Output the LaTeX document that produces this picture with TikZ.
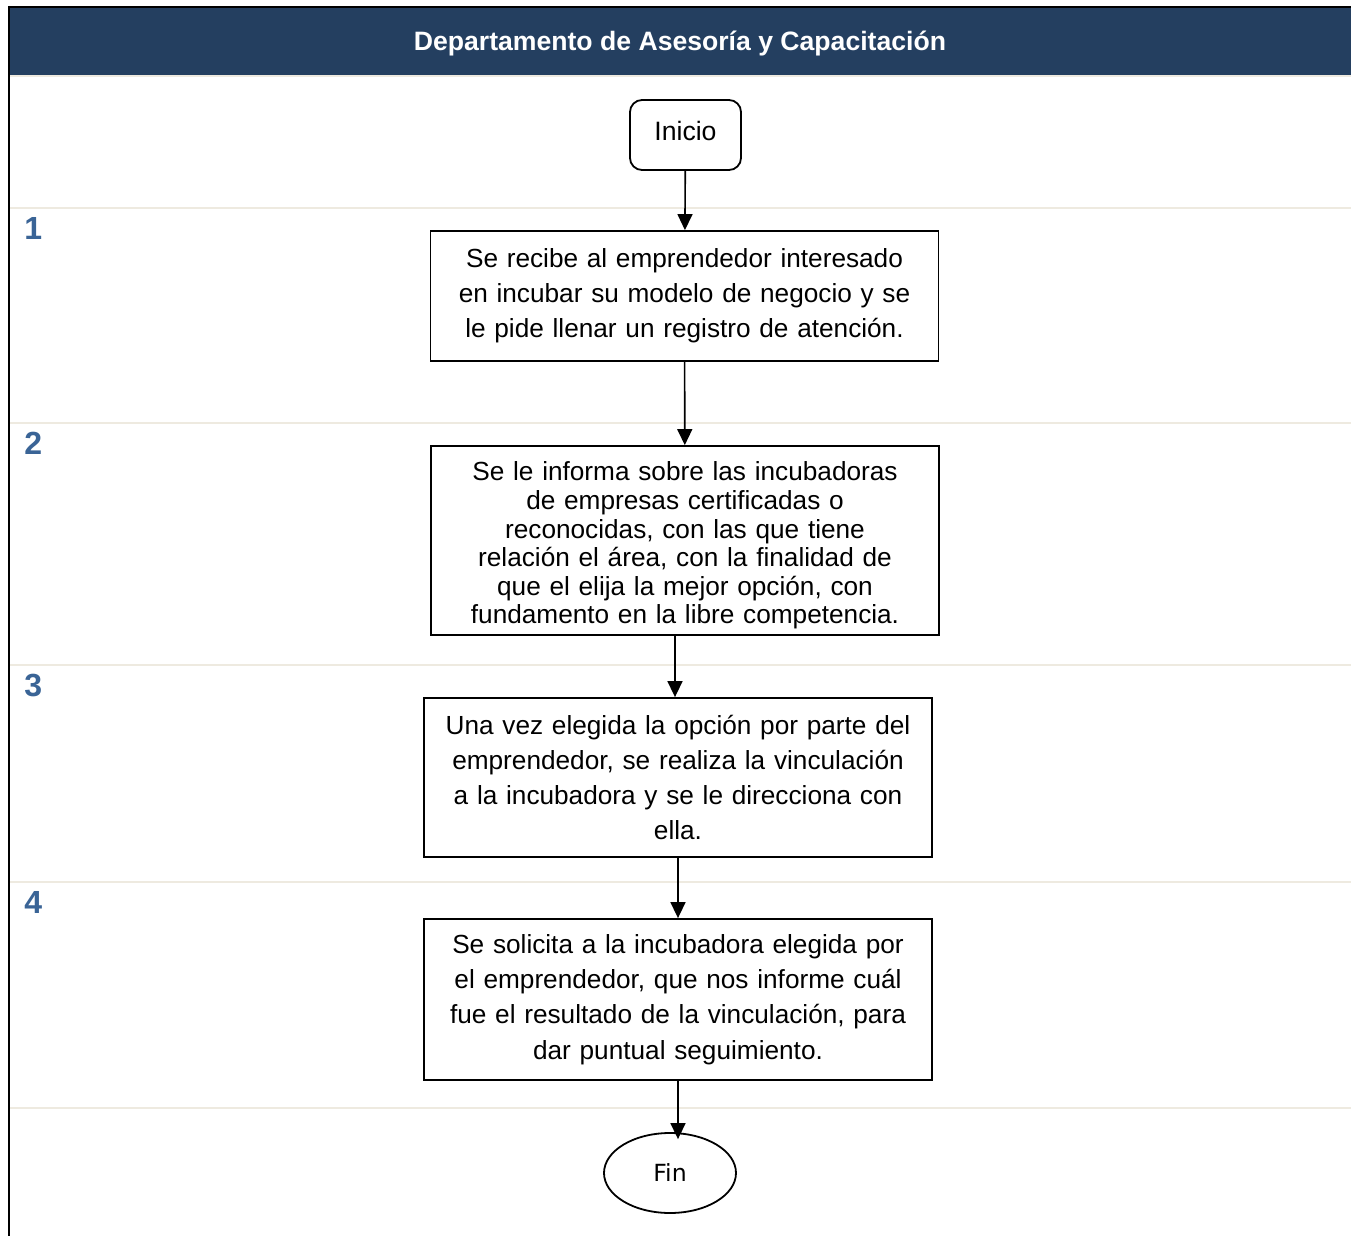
\documentclass[tikz,border=0pt]{standalone}
\usepackage{fontspec}
\setmainfont{Liberation Sans}
\newfontfamily\finfont{DejaVu Sans}
\usetikzlibrary{shapes.geometric,arrows.meta}
\definecolor{deptblue}{HTML}{243F60}
\definecolor{lanelight}{HTML}{EEEAE0}
\definecolor{stepblue}{HTML}{3A6496}

\begin{document}
\begin{tikzpicture}[
    x=0.5pt, y=-0.5pt,
    stepbox/.style={rectangle, draw=black, line width=0.9pt, text width=240pt, align=center, inner xsep=7pt, inner ysep=0pt, font=\fontsize{13.1}{17.6}\selectfont},
    startbox/.style={rectangle, rounded corners=6pt, draw, line width=0.9pt, minimum width=55.5pt, minimum height=35pt, text depth=4pt, font=\fontsize{13.3}{16}\selectfont},
    endbox/.style={ellipse, draw, line width=0.9pt, minimum width=66pt, minimum height=40pt, inner sep=0pt, font=\finfont\fontsize{11.8}{14}\selectfont},
    arrow/.style={draw, line width=0.8pt, -{Triangle[length=8pt,width=7.5pt]}},
    lane/.style={draw=lanelight, line width=1pt},
    stepnum/.style={anchor=west, inner sep=0pt, text=stepblue, font=\bfseries\fontsize{16}{18}\selectfont}
]
\useasboundingbox (0,0) rectangle (1351,1236);

% header band
\fill[deptblue] (9,7) rectangle (1351,75);
\draw[line width=1pt] (8,7) -- (1351,7);
\draw[line width=1pt] (9,6) -- (9,1236);
\node[text=white, font=\bfseries\fontsize{13.3}{16}\selectfont] (header) at (680,44) {Departamento de Asesoría y Capacitación};

% lanes
\foreach \y in {76,208,423,665,882,1108}
    \draw[lane] (10,\y) -- (1351,\y);
\foreach \n/\y in {1/228,2/443,3/686,4/902}
    \node[stepnum] (num\n) at (24,\y) {\n};

% flow
\node[startbox] (inicio) at (685.5,135) {Inicio};
\node[stepbox, minimum height=65pt] (recibe) at (684.5,296) {Se recibe al emprendedor interesado\\ en incubar su modelo de negocio y se\\ le pide llenar un registro de atención.};
\node[stepbox, minimum height=94.5pt, font=\fontsize{13.1}{14.3}\selectfont] (informa) at (685,540.5) {\rule{0pt}{14.6pt}Se le informa sobre las incubadoras\\ de empresas certificadas o\\ reconocidas, con las que tiene\\ relación el área, con la finalidad de\\ que el elija la mejor opción, con\\ fundamento en la libre competencia.};
\node[stepbox, minimum height=79.5pt] (vincula) at (678,777.5) {Una vez elegida la opción por parte del\\ emprendedor, se realiza la vinculación\\ a la incubadora y se le direcciona con\\ ella.};
\node[stepbox, minimum height=80.5pt] (solicita) at (678,999.5) {Se solicita a la incubadora elegida por\\ el emprendedor, que nos informe cuál\\ fue el resultado de la vinculación, para\\ dar puntual seguimiento.};
\node[endbox] (fin) at (670,1173) {Fin};

\draw[arrow] (inicio) -- (recibe);
\draw[arrow] (recibe) -- (informa);
\draw[arrow] ([xshift=-1.5pt]informa.south -| vincula.north) -- ([xshift=-1.5pt]vincula.north);
\draw[arrow] (vincula) -- (solicita);
\draw[arrow, shorten >=-3.5pt] (solicita.south) -- (solicita.south |- fin.north);

\end{tikzpicture}
\end{document}
